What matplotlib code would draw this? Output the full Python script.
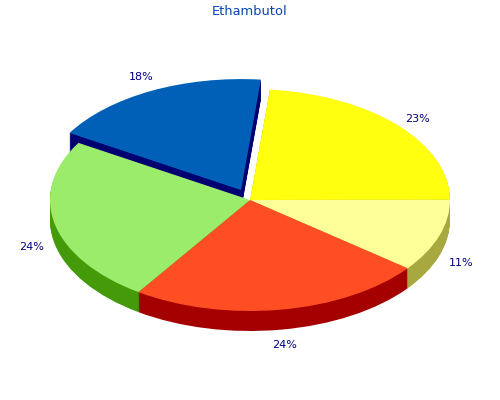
import numpy as np
import matplotlib
matplotlib.use("Agg")
import matplotlib.pyplot as plt

title = "Ethambutol"
values = [23.4, 10.6, 23.9, 24.2, 18.0]
labels = ["23%", "11%", "24%", "24%", "18%"]
top_colors = ["#FFFF0F", "#FFFF99", "#FF4E23", "#9CEC6B", "#0060B8"]
side_colors = ["#A8A800", "#A8A840", "#A40000", "#459A0A", "#000070"]
explode = [0, 0, 0, 0, 0.1]

W, H = 500, 400
RX, RY, DEPTH = 200.0, 111.0, 20
START = 84.3
LABEL_NUDGE_PX = [(2, -3), (-1, -3), (-1, -2), (0, 0), (1, 2)]

fig = plt.figure(figsize=(W / 100, H / 100), dpi=100)
ax = fig.add_axes([0, 0, 1, 1])


def draw(colors, dy):
    ax.pie(values, colors=colors, explode=explode, startangle=START,
           counterclock=False, center=(0, dy), radius=1.0, normalize=True,
           wedgeprops={"linewidth": 0})


# extruded side: stacked copies of the pie, deepest first
for d in range(DEPTH, 0, -1):
    draw(side_colors, -d / RY)
draw(top_colors, 0)

ax.set_aspect("auto")
ax.set_xlim(-W / 2 / RX, W / 2 / RX)
ax.set_ylim(-H / 2 / RY, H / 2 / RY)
ax.axis("off")

# percent labels around the rim
total = sum(values)
cum = 0.0
for v, lab, e, (nx, ny) in zip(values, labels, explode, LABEL_NUDGE_PX):
    mid = np.deg2rad(START - (cum + v / 2) / total * 360)
    cum += v
    x, y = (1.12 + e) * np.cos(mid), (1.12 + e) * np.sin(mid)
    if y < 0:
        y -= DEPTH / RY
    ax.text(x + nx / RX, y + ny / RY, lab, ha="center", va="center",
            fontsize=8, color="#000080", family="DejaVu Sans")

fig.text(249.5 / W, 1 - 11.5 / H, title, ha="center", va="center", fontsize=9.4,
         color="#0B45B5", family="DejaVu Sans")
fig.savefig("out.png", dpi=100, facecolor="white")
